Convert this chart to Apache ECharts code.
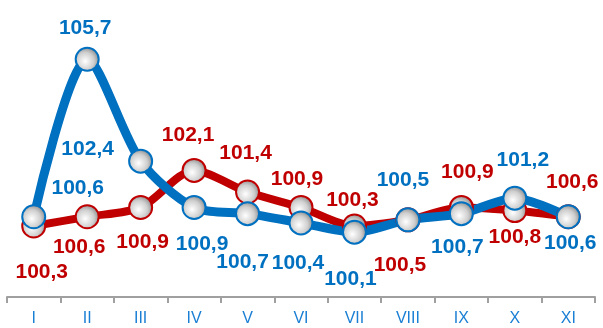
<!DOCTYPE html>
<html>
<head>
<meta charset="utf-8">
<script src="https://cdn.jsdelivr.net/npm/echarts@6/dist/echarts.min.js"></script>
<style>
html,body{margin:0;padding:0;background:#fff;}
#chart{width:603px;height:328px;}
</style>
</head>
<body>
<div id="chart"></div>
<script>
var categories = ['I','II','III','IV','V','VI','VII','VIII','IX','X','XI'];
var redValues  = [100.3, 100.6, 100.9, 102.1, 101.4, 100.9, 100.3, 100.5, 100.9, 100.8, 100.6];
var blueValues = [100.6, 105.7, 102.4, 100.9, 100.7, 100.4, 100.1, 100.5, 100.7, 101.2, 100.6];

// label offsets (style only): [dx, dy] from marker centre to label centre
var redLabelOffsets  = [[8,46],[-8,30],[2,35],[-6,-35],[-2,-39],[-4,-28],[-2,-26],[-8,45],[6,-35],[0,27],[4,-35]];
var blueLabelOffsets = [[44,-29],[-2,-31],[-53,-12],[8,37],[-5,49],[-3,40],[-4,47],[-5,-40],[-4,34],[8,-38],[2,26]];

var RED = '#c00000', BLUE = '#0070c0';

function markerFill(){
  return {
    type:'radial', x:0.42, y:0.58, r:0.7,
    colorStops:[{offset:0,color:'#ffffff'},{offset:0.5,color:'#cfcfcf'},{offset:1,color:'#6a6a6a'}]
  };
}
function fmt(v){ return v.toFixed(1).replace('.', ','); }

function buildData(values, offsets, color){
  return values.map(function(v,i){
    return {
      value:v,
      label:{
        show:true, position:'inside', offset:offsets[i],
        formatter:function(p){ return fmt(p.value); },
        color:color, fontFamily:'Liberation Sans, Arial, sans-serif', fontWeight:'bold', fontSize:21,
        align:'center', verticalAlign:'middle'
      }
    };
  });
}

function series(name, values, offsets, color, width){
  return {
    name:name, type:'line', smooth:0.28,
    data:buildData(values, offsets, color),
    lineStyle:{color:color, width:width},
    symbol:'circle', symbolSize:23,
    itemStyle:{color:markerFill(), borderColor:color, borderWidth:2},
    emphasis:{disabled:true},
    animation:false
  };
}

var chart = echarts.init(document.getElementById('chart'), null, {renderer:'canvas'});
chart.setOption({
  animation:false,
  grid:{left:7, right:8, top:50, bottom:31},
  xAxis:{
    type:'category', data:categories, boundaryGap:true,
    axisLine:{lineStyle:{color:'#a0a0a0', width:2}},
    axisTick:{show:true, length:6, lineStyle:{color:'#a0a0a0', width:2}},
    axisLabel:{color:'#1a7fd4', fontFamily:'Liberation Sans Narrow, Arial Narrow, sans-serif', fontSize:16, margin:14}
  },
  yAxis:{
    type:'value', min:98, max:106, show:false,
    splitLine:{show:false}
  },
  series:[
    series('red', redValues, redLabelOffsets, RED, 8),
    series('blue', blueValues, blueLabelOffsets, BLUE, 9)
  ]
});
</script>
</body>
</html>
